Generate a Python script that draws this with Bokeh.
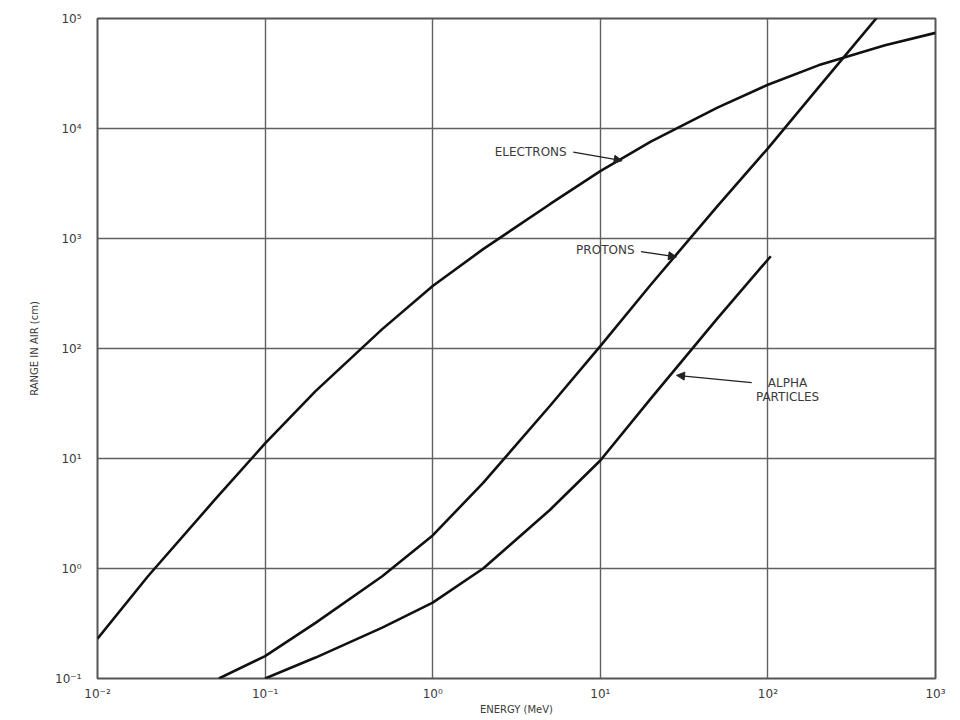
from bokeh.plotting import figure
from bokeh.models import Range1d, FixedTicker, Label, Arrow, NormalHead
from bokeh.embed import file_html
from bokeh.resources import INLINE

# ---- data ----
electron_energy = [0.01, 0.02, 0.05, 0.1, 0.2, 0.5, 1, 2, 5, 10, 20, 50, 100, 200, 500, 1000]
electron_range = [0.23, 0.85, 4.2, 13.7, 41, 150, 370, 800, 2050, 4100, 7600, 15500, 25000, 37500, 57000, 74000]

proton_energy = [0.053, 0.1, 0.2, 0.5, 1, 2, 5, 10, 20, 50, 100, 200, 500]
proton_range = [0.1, 0.16, 0.32, 0.85, 2.0, 6.0, 30, 105, 380, 1970, 6600, 23500, 125000]

alpha_energy = [0.1, 0.2, 0.5, 1, 2, 5, 10, 20, 50, 104]
alpha_range = [0.1, 0.155, 0.29, 0.49, 1.0, 3.4, 9.6, 35, 188, 690]

x_ticks = [0.01, 0.1, 1, 10, 100, 1000]
x_tick_labels = ["10\u207b\u00b2", "10\u207b\u00b9", "10\u2070", "10\u00b9", "10\u00b2", "10\u00b3"]
y_ticks = [0.1, 1, 10, 100, 1000, 10000, 100000]
y_tick_labels = ["10\u207b\u00b9", "10\u2070", "10\u00b9", "10\u00b2", "10\u00b3", "10\u2074", "10\u2075"]

FONT = "DejaVu Sans"
TXT = "#3a3a3a"

p = figure(width=960, height=720, x_axis_type="log", y_axis_type="log",
           x_range=Range1d(1e-2, 1e3), y_range=Range1d(1e-1, 1e5),
           output_backend="svg", toolbar_location=None,
           min_border_left=97, min_border_right=25, min_border_top=18, min_border_bottom=42)

p.background_fill_color = "white"
p.border_fill_color = "white"
p.outline_line_color = "#555555"
p.outline_line_width = 2

for ax, ticks, labels in ((p.xaxis[0], x_ticks, x_tick_labels), (p.yaxis[0], y_ticks, y_tick_labels)):
    ax.ticker = FixedTicker(ticks=ticks)
    ax.major_label_overrides = {t: l for t, l in zip(ticks, labels)}
    ax.axis_line_color = None
    ax.major_tick_line_color = None
    ax.minor_tick_line_color = None
    ax.major_label_text_font = FONT
    ax.major_label_text_font_size = "12px"
    ax.major_label_text_color = TXT
    ax.axis_label_text_font = FONT
    ax.axis_label_text_font_size = "10px"
    ax.axis_label_text_font_style = "normal"
    ax.axis_label_text_color = TXT

p.xaxis.axis_label = "ENERGY (MeV)"
p.xaxis.major_label_standoff = 2
p.xaxis.axis_label_standoff = 0
p.yaxis.axis_label = "RANGE IN AIR (cm)"
p.yaxis.major_label_standoff = 10
p.yaxis.axis_label_standoff = 12

p.xgrid.ticker = FixedTicker(ticks=x_ticks)
p.ygrid.ticker = FixedTicker(ticks=y_ticks)
for g in (p.xgrid[0], p.ygrid[0]):
    g.grid_line_color = "#606060"
    g.grid_line_width = 1.4
    g.grid_line_alpha = 1.0

p.line(electron_energy, electron_range, line_color="#111111", line_width=2.6)
p.line(proton_energy, proton_range, line_color="#111111", line_width=2.6)
p.line(alpha_energy, alpha_range, line_color="#111111", line_width=2.6)

lab_kw = dict(text_font=FONT, text_font_size="12px", text_color=TXT, text_baseline="middle")
p.add_layout(Label(x=6.3, y=6170, text="ELECTRONS", text_align="right", **lab_kw))
p.add_layout(Label(x=16.0, y=780, text="PROTONS", text_align="right", **lab_kw))
p.add_layout(Label(x=131, y=49, text="ALPHA", text_align="center", **lab_kw))
p.add_layout(Label(x=131, y=36, text="PARTICLES", text_align="center", **lab_kw))

def leader(x0, y0, x1, y1):
    p.add_layout(Arrow(x_start=x0, y_start=y0, x_end=x1, y_end=y1,
                       line_color="#222222", line_width=1.4,
                       end=NormalHead(size=8, fill_color="#222222", line_color="#222222", line_width=1)))

leader(6.9, 6100, 13.5, 5100)
leader(17.5, 760, 28.5, 680)
leader(80, 49, 28.5, 57)

open("out.html", "w").write(file_html(p, INLINE))
